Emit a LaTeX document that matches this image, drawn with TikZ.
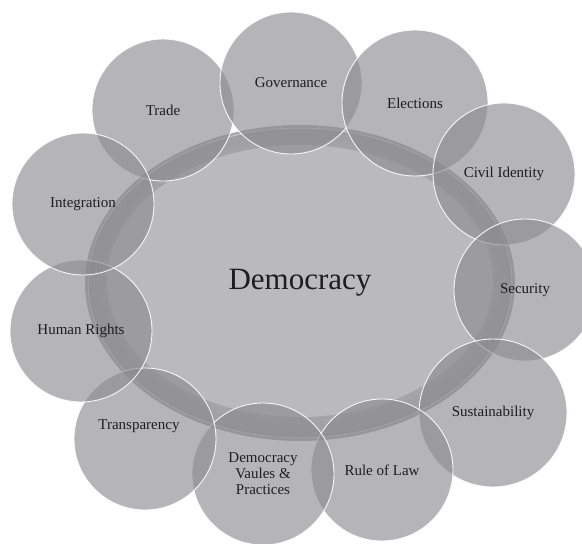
\documentclass[tikz,border=0pt]{standalone}
\usepackage{fontspec}
\setmainfont{Liberation Serif}
\definecolor{ringgray}{RGB}{158,158,161}
\definecolor{coregray}{RGB}{186,186,188}
\definecolor{topicgray}{RGB}{140,140,143}
\definecolor{textgray}{RGB}{30,30,30}

\begin{document}
\begin{tikzpicture}[x=1pt, y=-1pt,
    topic/.style={circle, minimum size=142pt, inner sep=0pt, fill=topicgray,
      fill opacity=0.64, draw=white, draw opacity=0.9, line width=0.9pt,
      text opacity=1, text=textgray, align=center,
      font=\fontsize{15}{16}\selectfont}]
            \useasboundingbox (0,0) rectangle (582,544);
            \clip (0,0) rectangle (582,544);

            % centre, with a soft darker rim
            \fill[ringgray!85!white] (300,283) ellipse [x radius=215pt, y radius=158pt];
            \foreach \i in {0,...,8}
                \fill[ringgray!\the\numexpr 100-\i*3\relax!coregray]
                    (300,283-\i/8) ellipse [x radius={213pt-\i*2.2pt}, y radius={156pt-\i*2.2pt}];
            \fill[coregray] (300,281) ellipse [x radius=193pt, y radius=136pt];
            \draw[white, opacity=0.45, line width=1pt] (300,283) ellipse [x radius=212pt, y radius=155pt];
            \node[text=textgray, font=\fontsize{31}{33}\selectfont] (dem) at (300,283) {Democracy};

            % topics
            \node[topic] (trade) at (163,110) {Trade};
            \node[topic] (gov) at (291,83) {Governance};
            \node[topic, minimum size=146pt] (elect) at (415,103) {Elections};
            \node[topic] (civil) at (504,174) {Civil Identity};
            \node[topic] (secur) at (525,290) {Security};
            \node[topic, minimum size=148pt] (sustain) at (493,413) {Sustainability};
            \node[topic] (law) at (382,470) {Rule of Law};
            \node[topic] (values) at (263,474) {Democracy\\Vaules \&\\Practices};
            \node[topic] (transp) at (145,439) {\raisebox{10pt}[0pt][0pt]{Transparency}\hspace*{12pt}};
            \node[topic] (rights) at (81,331) {Human Rights};
            \node[topic] (integr) at (83,204) {Integration};
        \end{tikzpicture}
\end{document}
